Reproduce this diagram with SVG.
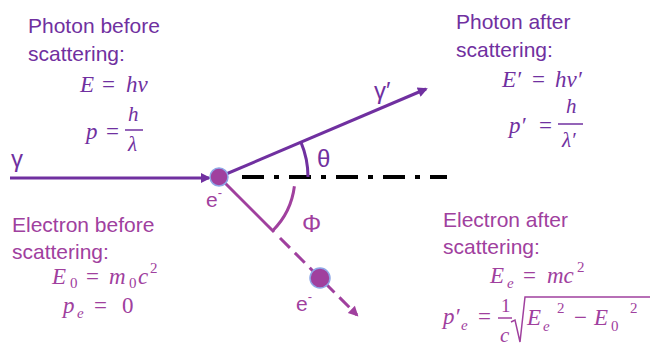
<svg xmlns="http://www.w3.org/2000/svg" width="650" height="348" viewBox="0 0 650 348">
<defs>
<marker id="ap" viewBox="0 0 10 10" refX="8" refY="5" markerWidth="12" markerHeight="10" markerUnits="userSpaceOnUse" orient="auto"><path d="M0,0 L10,5 L0,10 z" fill="#7030A0"/></marker>
<marker id="am" viewBox="0 0 10 10" refX="8" refY="5" markerWidth="11" markerHeight="10" markerUnits="userSpaceOnUse" orient="auto"><path d="M0,0 L10,5 L0,10 z" fill="#A0409E"/></marker>
</defs>
<style>
.lbl{font-family:"Liberation Sans",Arial,sans-serif;font-size:21px}
.big{font-size:24px}
.pho{fill:#7030A0}
.ele{fill:#A0409E}
.m{font-family:"Liberation Serif","Times New Roman",serif;font-size:23px;font-style:italic}
.f{font-size:21px}
.r{font-style:normal}
.s{font-size:15px}
.pl{stroke:#7030A0;stroke-width:3;fill:none}
.el{stroke:#A0409E;stroke-width:3;fill:none}
.bar{stroke-width:1.5}
.dot{fill:#A0409E;stroke:#8EA6E6;stroke-width:1.5}
</style>
<rect width="650" height="348" fill="#fff"/>

<g id="connectors">
<line class="pl" x1="10" y1="178" x2="209" y2="178" marker-end="url(#ap)"/>
<line class="pl" x1="219" y1="177" x2="426" y2="89" marker-end="url(#ap)"/>
<line x1="242" y1="177" x2="447" y2="177" stroke="#000" stroke-width="4" stroke-dasharray="22 10 5 10"/>
<path class="pl" d="M308,177 A89,89 0 0 0 301,142.4"/>
<line class="el" x1="219" y1="177" x2="274" y2="232"/>
<line class="el" x1="280" y1="238" x2="357" y2="315" stroke-dasharray="14 7" marker-end="url(#am)"/>
<path class="el" d="M294.4,186.3 A76,76 0 0 1 272.7,230.7"/>
</g>

<g id="angle-labels">
<text class="lbl big pho" x="317" y="167">θ</text>
<text class="lbl big ele" x="302" y="232">Φ</text>
<text class="lbl big pho" x="11" y="167">γ</text>
<text class="lbl big pho" x="374" y="99">γ′</text>
</g>

<g id="electron-initial">
<circle class="dot" cx="219" cy="177" r="9"/>
<text class="lbl ele" x="206" y="207">e<tspan dy="-10" style="font-size:13px">-</tspan></text>
</g>

<g id="electron-scattered">
<circle class="dot" cx="320" cy="278" r="10"/>
<text class="lbl ele" x="296" y="311">e<tspan dy="-10" style="font-size:13px">-</tspan></text>
</g>

<g id="photon-before" class="pho">
<text class="lbl" x="28" y="33">Photon before</text>
<text class="lbl" x="28" y="61">scattering:</text>
<text class="m" x="80" y="92">E<tspan class="r" x="102">=</tspan><tspan x="126">hν</tspan></text>
<text class="m" x="86" y="139">p<tspan class="r" x="106">=</tspan></text>
<text class="m f" x="128" y="121">h</text>
<line x1="125" y1="130" x2="143" y2="130" stroke="#7030A0" class="bar"/>
<text class="m f" x="128" y="151">λ</text>
</g>

<g id="photon-after" class="pho">
<text class="lbl" x="456" y="29">Photon after</text>
<text class="lbl" x="456" y="57">scattering:</text>
<text class="m" x="502" y="87">E′<tspan class="r" x="532">=</tspan><tspan x="555">hν′</tspan></text>
<text class="m" x="509" y="133">p′<tspan class="r" x="539">=</tspan></text>
<text class="m f" x="566" y="113">h</text>
<line x1="558" y1="124" x2="583" y2="124" stroke="#7030A0" class="bar"/>
<text class="m f" x="562" y="147">λ′</text>
</g>

<g id="electron-before" class="ele">
<text class="lbl" x="12" y="232">Electron before</text>
<text class="lbl" x="12" y="259">scattering:</text>
<text class="m" x="52" y="284">E<tspan class="r s" x="70" y="288">0</tspan><tspan class="r" x="86" y="284">=</tspan><tspan x="109">m</tspan><tspan class="r s" x="129" y="288">0</tspan><tspan x="138" y="284">c</tspan><tspan class="r s" x="150" y="273">2</tspan></text>
<text class="m" x="63" y="313">p<tspan class="s" x="77" y="318">e</tspan><tspan class="r" x="94" y="313">=</tspan><tspan class="r" x="122">0</tspan></text>
</g>

<g id="electron-after" class="ele">
<text class="lbl" x="443" y="227">Electron after</text>
<text class="lbl" x="443" y="254">scattering:</text>
<text class="m" x="490" y="283">E<tspan class="s" x="507" y="288">e</tspan><tspan class="r" x="523" y="283">=</tspan><tspan x="547">mc</tspan><tspan class="r s" x="577" y="272">2</tspan></text>
<text class="m" x="443" y="324">p′<tspan class="s" x="461" y="330">e</tspan><tspan class="r" x="478" y="324">=</tspan></text>
<text class="m r" x="501" y="312" style="font-size:19px">1</text>
<line x1="498" y1="318" x2="512" y2="318" stroke="#A0409E" class="bar"/>
<text class="m f" x="500" y="342">c</text>
<path d="M511,322 L515,320 L520,342 L525,297 L650,297" fill="none" stroke="#A0409E" stroke-width="1.5"/>
<text class="m" x="527" y="325">E<tspan class="s" x="543" y="331">e</tspan><tspan class="r s" x="557" y="313">2</tspan><tspan class="r" x="574" y="325">−</tspan><tspan x="594">E</tspan><tspan class="r s" x="611" y="331">0</tspan><tspan class="r s" x="630" y="313">2</tspan></text>
</g>
</svg>
